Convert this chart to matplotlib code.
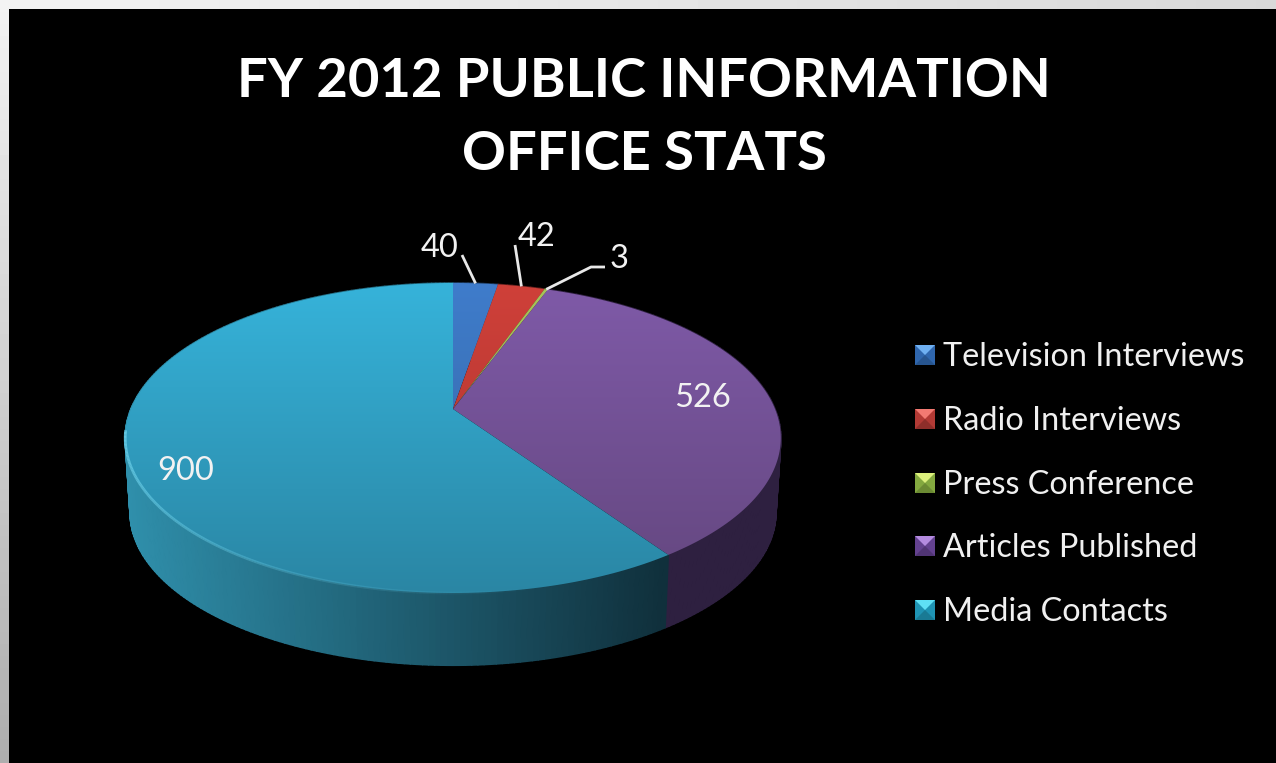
"""
FY 2012 public information office stats, drawn as a tilted 3D style pie.
"""

import numpy as np
import matplotlib
matplotlib.use("Agg")
import matplotlib.pyplot as plt
from matplotlib.collections import LineCollection, PolyCollection
from matplotlib.colors import to_rgb
from matplotlib.patches import Polygon

title = "FY 2012 PUBLIC INFORMATION\nOFFICE STATS"
categories = ["Television Interviews", "Radio Interviews", "Press Conference",
              "Articles Published", "Media Contacts"]
values = [40, 42, 3, 526, 900]

# face gradient colours, top of chart to bottom
face_top = ["#3f7ccb", "#cf4039", "#a6c659", "#7f5aa8", "#36b3da"]
face_bottom = ["#34659f", "#a8342f", "#84a048", "#64477f", "#2a86a4"]
# side wall colours, left end to right end
wall_left = ["#1d3a5e", "#5e1e1c", "#4a5a28", "#2b1c38", "#2f8fab"]
wall_right = ["#1d3a5e", "#5e1e1c", "#4a5a28", "#2e2040", "#10303c"]
# legend swatches: top bevel, body, bottom bevel
swatch_top = ["#6fb0f2", "#f27a72", "#dcf07c", "#b48be0", "#5fe0f5"]
swatch_body = ["#2f66ad", "#b23a35", "#83a83f", "#63418f", "#1f94b4"]
swatch_low = ["#27558f", "#8e2e2a", "#6b8a33", "#503474", "#197a94"]

# pie geometry in image pixels
APEX_X, APEX_Y = 453, 409
A, B, K = 322.0, 149.6, 0.187
DEPTH = 75
BOTTOM_SCALE = 0.985


def rim(theta, scale=1.0):
    # theta runs clockwise from 12 o'clock; perspective pulls the far side in
    w = 1 + K * np.cos(theta)
    x = APEX_X + scale * A * np.sin(theta) / w
    y = APEX_Y - scale * B * np.cos(theta) / w
    return x, y


fig = plt.figure(figsize=(12.76, 7.63), dpi=100)
ax = fig.add_axes([0, 0, 1, 1])

# grey slide border with a diagonal fade
yy, xx = np.mgrid[0:1:64j, 0:1:64j]
border = 0.95 - 0.10 * xx - 0.27 * yy
ax.imshow(border, extent=[0, 1276, 763, 0], cmap="gray", vmin=0, vmax=1,
          aspect="auto", zorder=0)
ax.add_patch(plt.Rectangle((9, 9), 1267, 754, fc="black", ec="none", zorder=1))

fractions = np.array(values) / sum(values)
edges = np.concatenate([[0], np.cumsum(fractions)]) * 2 * np.pi
ramp = np.linspace(0, 1, 256).reshape(-1, 1)

# side walls first, the top face covers whatever is behind it
for i in range(len(values)):
    th = np.linspace(edges[i], edges[i + 1], max(4, int(fractions[i] * 400)))
    xt, yt = rim(th)
    xb, yb = rim(th, BOTTOM_SCALE)
    yb = yb + DEPTH
    quads = []
    cols = []
    c0, c1 = np.array(to_rgb(wall_left[i])), np.array(to_rgb(wall_right[i]))
    for j in range(len(th) - 1):
        quads.append([(xt[j], yt[j]), (xt[j + 1], yt[j + 1]),
                      (xb[j + 1], yb[j + 1]), (xb[j], yb[j])])
        s = np.clip((xt[j] - 125) / 540, 0, 1)
        cols.append(c0 + (c1 - c0) * s)
    ax.add_collection(PolyCollection(quads, facecolors=cols, edgecolors=cols,
                                     linewidths=1.2, zorder=2))

# top face of every slice, gradient clipped to the slice outline
for i in range(len(values)):
    th = np.linspace(edges[i], edges[i + 1], max(4, int(fractions[i] * 400)))
    xt, yt = rim(th)
    outline = np.column_stack([np.r_[APEX_X, xt], np.r_[APEX_Y, yt]])
    c0, c1 = np.array(to_rgb(face_top[i])), np.array(to_rgb(face_bottom[i]))
    grad = (c0 + (c1 - c0) * ramp)[:, None, :].reshape(256, 1, 3)
    im = ax.imshow(grad, extent=[120, 790, 593, 283], aspect="auto", zorder=3)
    clip = Polygon(outline, closed=True, transform=ax.transData, fc="none", ec="none")
    ax.add_patch(clip)
    im.set_clip_path(clip)

# soft highlight along the near rim of the big slice, fades toward the front
th = np.linspace(np.deg2rad(262), np.deg2rad(165), 200)
xr, yr = rim(th)
segs = [[(xr[j], yr[j]), (xr[j + 1], yr[j + 1])] for j in range(len(th) - 1)]
fade = np.linspace(0.85, 0.0, len(segs)) ** 1.3
rim_cols = [(0.44, 0.83, 0.93, a) for a in fade]
ax.add_collection(LineCollection(segs, colors=rim_cols, linewidths=2.0, zorder=4))

# data labels, small slices get a leader line from the rim
mids = (edges[:-1] + edges[1:]) / 2
label_pos = [(440, 248), (537, 237), (619, 259), (702, 398), (186, 471)]
leader_pos = [[(462, 255)], [(515, 245)], [(591, 267), (605, 267)], None, None]
for i, v in enumerate(values):
    ax.text(label_pos[i][0], label_pos[i][1], str(v), color="#f2f2f2",
            fontsize=23.5, family="Lato", ha="center", va="center", zorder=6)
    if leader_pos[i]:
        mx, my = rim(mids[i])
        pts = [(mx, my)] + leader_pos[i]
        ax.plot([p[0] for p in pts], [p[1] for p in pts], color="#e8e8e8",
                lw=2.0, solid_capstyle="butt", zorder=6)

ax.text(644, 118, title, color="white", fontsize=39.2, family="Lato",
        fontweight="bold", ha="center", va="center", linespacing=1.58, zorder=6)

# legend, beveled swatches like the office chart
legend_y = [355, 419, 483, 546, 610]
for i, name in enumerate(categories):
    y = legend_y[i]
    ax.add_patch(plt.Rectangle((915, y - 10), 20, 20, fc=swatch_body[i], ec="none", zorder=5))
    ax.add_patch(Polygon([(915, y - 10), (935, y - 10), (925, y)], closed=True,
                         fc=swatch_top[i], ec="none", zorder=6))
    ax.add_patch(Polygon([(915, y + 10), (935, y + 10), (925, y)], closed=True,
                         fc=swatch_low[i], ec="none", zorder=6))
    ax.text(943, y + 2, name, color="#f0f0f0", fontsize=23.3, family="Lato",
            ha="left", va="center", zorder=6)

ax.set_xlim(0, 1276)
ax.set_ylim(763, 0)
ax.axis("off")
fig.savefig("out.png", dpi=100, facecolor="black")
